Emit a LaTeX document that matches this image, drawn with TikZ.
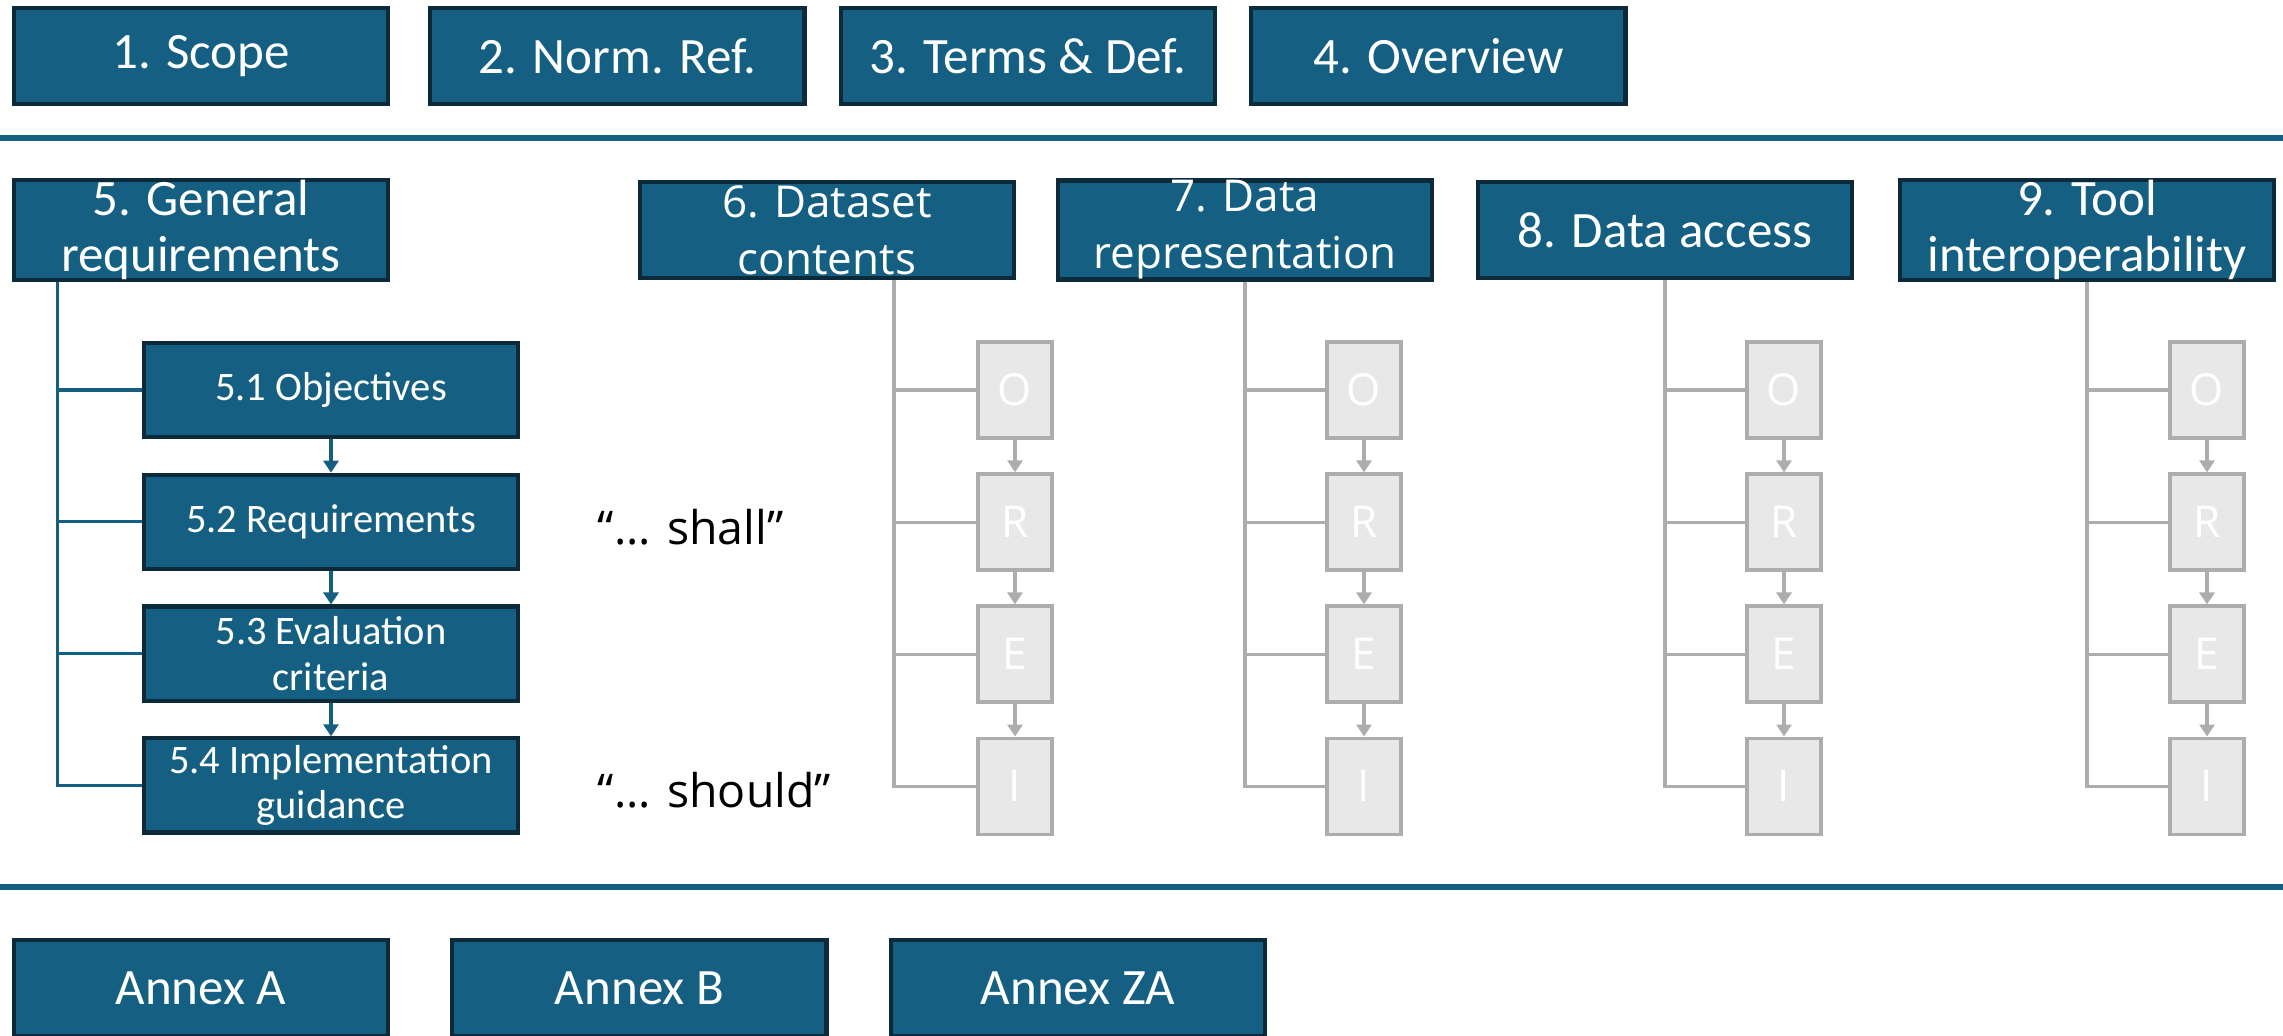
\documentclass[tikz,border=0pt]{standalone}
\usepackage{fontspec}
\setmainfont{Carlito}
\newfontfamily\opensans{Open Sans}
\usetikzlibrary{positioning,arrows.meta}
\definecolor{secblue}{HTML}{156082}
\definecolor{secedge}{HTML}{0C2A3A}
\definecolor{oreline}{HTML}{ADADAD}
\definecolor{orefill}{HTML}{E8E8E8}

\begin{document}
\begin{tikzpicture}[x=0.01cm,y=-0.01cm,
    sec/.style={draw=secedge,line width=1.2pt,fill=secblue,text=white,
      minimum width=3.74cm,minimum height=0.96cm,inner sep=0pt,align=center,
      font=\fontsize{14.5}{16}\selectfont},
    secwide/.style={sec,font=\opensans\fontsize{12.5}{16.2}\selectfont},
    sub/.style={sec,minimum height=0.94cm,font=\fontsize{11.5}{12.9}\selectfont},
    ore/.style={draw=oreline,line width=1pt,fill=orefill,text=white,
      minimum width=0.74cm,minimum height=0.96cm,inner sep=0pt,
      font=\opensans\fontsize{12.5}{14}\selectfont},
    quote/.style={inner sep=0pt,yshift=-0.05cm,font=\opensans\fontsize{13.2}{15}\selectfont},
    tree/.style={draw=secblue,line width=0.9pt},
    gtree/.style={draw=oreline,line width=0.9pt},
    flow/.style={-{Triangle[width=0.15cm,length=0.12cm]}},
    rule/.style={draw=secblue,line width=1.5pt}]
\useasboundingbox (0,0) rectangle (2283,1035);

\node[sec] (scope) at (201,56) {1. Scope};
\node[sec,right=0.38cm of scope] (normref) {2. Norm. Ref.};
\node[sec,right=0.32cm of normref] (terms) {3. Terms \& Def.};
\node[sec,right=0.32cm of terms] (overview) {4. Overview};
\draw[rule] (0,138) -- (2283,138);

\node[sec] (general) at (201,230) {5. General\\requirements};
\node[secwide] (dataset) at (827,230) {6. Dataset\\contents};
\node[secwide] (datarep) at (1245,230) {7. Data\\representation};
\node[sec] (access) at (1665,230) {8. Data access};
\node[sec] (tool) at (2087,230) {9. Tool\\interoperability};

\node[sub] (obj) at (331,390) {5.1 Objectives};
\node[sub,below=0.335cm of obj] (req) {5.2 Requirements};
\node[sub,below=0.335cm of req] (eval) {5.3 Evaluation\\criteria};
\node[sub,below=0.335cm of eval] (impl) {5.4 Implementation\\guidance};
\foreach \n in {obj,req,eval,impl}
  \draw[tree] ([xshift=0.46cm]general.south west) |- (\n.west);
\draw[tree,flow] (obj) -- (req);
\draw[tree,flow] (req) -- (eval);
\draw[tree,flow] (eval) -- (impl);

\node[quote,right=0.77cm of req] (shall) {“... shall”};
\node[quote,right=0.77cm of impl] (should) {“... should”};

\foreach \h/\t/\b in {dataset/894/1015,datarep/1245/1364,access/1665/1784,tool/2087/2207}{
  \node[ore] (\h-o) at (\b,390) {O};
  \node[ore,below=0.325cm of \h-o] (\h-r) {R};
  \node[ore,below=0.325cm of \h-r] (\h-e) {E};
  \node[ore,below=0.325cm of \h-e] (\h-i) {I};
  \foreach \n in {o,r,e,i}
    \draw[gtree] (\h.south -| \t,0) |- (\h-\n.west);
  \draw[gtree,flow] (\h-o) -- (\h-r);
  \draw[gtree,flow] (\h-r) -- (\h-e);
  \draw[gtree,flow] (\h-e) -- (\h-i);
}

\draw[rule] (0,887) -- (2283,887);
\node[sec] (annexa) at (201,988) {Annex A};
\node[sec,right=0.6cm of annexa] (annexb) {Annex B};
\node[sec,right=0.6cm of annexb] (annexza) {Annex ZA};
\end{tikzpicture}
\end{document}
